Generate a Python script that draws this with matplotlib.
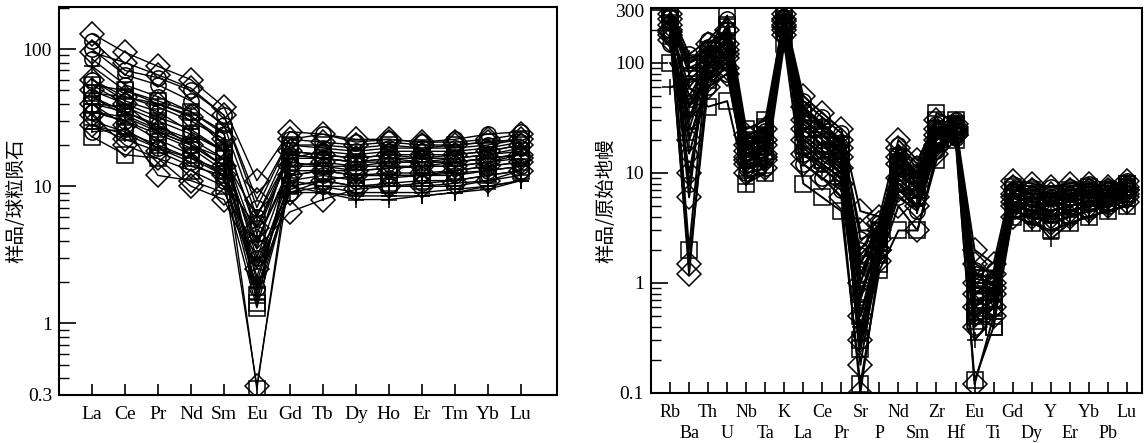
import numpy as np
import matplotlib
matplotlib.use('Agg')
import matplotlib.pyplot as plt
from matplotlib.ticker import LogLocator, FixedLocator, NullFormatter

plt.rcParams['font.family'] = ['Liberation Serif', 'Noto Sans CJK SC']

# chondrite-normalised REE
ree_labels = ['La', 'Ce', 'Pr', 'Nd', 'Sm', 'Eu', 'Gd', 'Tb', 'Dy', 'Ho', 'Er', 'Tm', 'Yb', 'Lu']

ree_diamond = [
    [130, 95, 75, 60, 38, 11, 25, 24, 22, 22, 21, 21, 22, 24],
    [95, 80, 65, 52, 33, 8, 22, 21, 20, 21, 20, 20, 21, 22],
    [60, 45, 40, 32, 22, 5, 18, 17, 16, 17, 17, 17, 18, 20],
    [40, 28, 12, 11, 9, 3.5, 6.5, 8, 9.5, 10, 10, 10.5, 11, 13],
    [33, 20, 16, 10, 8, 2.5, 9, 11, 12, 12.5, 12.5, 13, 14, 15],
    [50, 40, 25, 20, 14, 4, 14, 15, 14, 15, 15, 15, 16, 17],
    [28, 22, 18, 14, 12, 0.35, 12, 13, 13, 13.5, 14, 14, 15, 16],
]
ree_circle = [
    [115, 70, 62, 50, 33, 7, 22, 24, 21, 22, 21, 22, 24, 25],
    [100, 65, 55, 42, 28, 6, 20, 19, 18, 19, 19, 19, 20, 22],
    [85, 55, 45, 35, 24, 4.5, 17, 16, 15, 16, 16, 16, 17, 19],
    [60, 42, 35, 25, 18, 3, 14, 14, 13, 13.5, 14, 14, 15, 17],
    [45, 35, 28, 20, 14, 2.2, 11, 12, 11, 11.5, 12, 12, 13, 14],
    [35, 30, 22, 17, 12, 1.8, 9, 10, 10, 10, 10.5, 11, 12, 13],
    [25, 26, 19, 15, 11, 5, 16, 18, 17, 18, 18, 18, 19, 21],
]
ree_square = [
    [55, 50, 42, 35, 25, 1.4, 18, 17, 16, 17, 16, 17, 18, 20],
    [48, 45, 38, 30, 22, 1.6, 16, 16, 15, 16, 15, 16, 17, 18],
    [40, 38, 30, 24, 18, 0.33, 15, 14, 14, 14, 14, 15, 16, 17],
    [30, 25, 20, 16, 13, 2.5, 12, 13, 12, 12, 12, 13, 14, 15],
    [23, 17, 16, 13, 10, 1.3, 10, 11, 10, 10.5, 11, 11, 12, 13],
    [35, 32, 25, 20, 16, 3.5, 20, 20, 19, 20, 19, 20, 21, 22],
]
ree_plus = [
    [75, 50, 40, 33, 20, 2, 11, 10, 9, 9, 9, 9.5, 10, 11],
    [45, 33, 26, 21, 14, 1.8, 9, 9, 8.5, 8.5, 8.5, 9, 9.5, 11],
    [35, 30, 24, 19, 13, 2.8, 10, 11, 10, 10, 10, 10, 11, 12],
    [55, 40, 32, 26, 18, 4, 13, 13, 12, 12, 12, 12.5, 13, 14],
    [40, 35, 27, 22, 16, 6, 17, 16, 15, 15, 15, 15, 16, 17],
    [28, 24, 19, 16, 12, 1.5, 10, 9, 8, 8, 8.5, 9, 10, 11],
]

# primitive-mantle-normalised trace elements
te_labels = ['Rb', 'Ba', 'Th', 'U', 'Nb', 'Ta', 'K', 'La', 'Ce', 'Pr', 'Sr', 'P', 'Nd',
             'Sm', 'Zr', 'Hf', 'Eu', 'Ti', 'Gd', 'Dy', 'Y', 'Er', 'Yb', 'Pb', 'Lu']

te_diamond = [
    [280, 6, 150, 200, 22, 25, 280, 50, 35, 25, 4.5, 4, 20, 13, 30, 28, 2, 1.5, 8.5, 8, 7.5, 8, 8, 7.5, 8.5],
    [250, 40, 120, 150, 18, 20, 250, 40, 28, 20, 3, 3, 17, 11, 25, 26, 1.5, 1.2, 7.5, 7, 6.5, 7, 7, 7, 7.5],
    [200, 1.2, 90, 120, 14, 15, 220, 25, 18, 14, 0.18, 2, 12, 8, 20, 24, 0.8, 0.8, 6, 5.5, 5, 5.5, 6, 6, 7],
    [180, 1.5, 60, 80, 10, 11, 200, 12, 9, 6, 0.1, 1.6, 5, 3, 15, 22, 0.12, 0.5, 4, 4, 3.5, 4, 4.5, 5, 5.5],
    [160, 20, 70, 90, 12, 13, 180, 15, 11, 8, 0.5, 2.5, 7, 5, 18, 22, 0.6, 0.9, 5, 4.5, 4, 4.5, 5, 5.5, 6],
    [220, 60, 100, 130, 16, 18, 240, 30, 22, 17, 1, 3.5, 14, 9, 22, 25, 1, 1, 6.5, 6, 5.5, 6, 6.5, 6.5, 7],
    [190, 10, 80, 110, 13, 14, 210, 20, 15, 11, 0.3, 2, 9, 6, 17, 23, 0.4, 0.6, 5.5, 5, 4.5, 5, 5.5, 6, 6.5],
]
te_circle = [
    [300, 120, 160, 250, 20, 24, 290, 45, 32, 23, 2.5, 3, 18, 12, 28, 30, 1.2, 1.1, 8, 7.5, 7.5, 7.5, 8, 7.5, 8.5],
    [260, 100, 140, 200, 17, 20, 260, 38, 27, 19, 1.8, 2.8, 15, 10, 25, 28, 1, 1, 7, 6.5, 6.5, 7, 7.5, 7, 8],
    [230, 80, 120, 160, 15, 17, 240, 30, 22, 16, 1.2, 2.5, 13, 9, 22, 26, 0.8, 0.9, 6.5, 6, 6, 6, 6.5, 6.5, 7.5],
    [200, 50, 100, 130, 13, 15, 220, 22, 16, 12, 0.8, 2.2, 10, 7, 20, 24, 0.6, 0.8, 5.5, 5, 5, 5.5, 6, 6, 7],
    [180, 30, 80, 100, 11, 13, 200, 17, 12, 9, 0.5, 2, 8, 6, 18, 22, 0.5, 0.7, 5, 4.5, 4.5, 5, 5.5, 5.5, 6.5],
    [150, 15, 60, 80, 10, 11, 180, 12, 9, 7, 0.35, 1.8, 6, 4.5, 16, 21, 0.4, 0.6, 4.5, 4, 3.5, 4, 4.5, 5, 6],
    [270, 8, 110, 140, 19, 22, 260, 15, 12, 9, 2, 3.5, 11, 9, 24, 28, 1.3, 1.3, 7, 6.5, 6, 6.5, 7, 7, 7.5],
]
te_square = [
    [320, 2, 130, 270, 25, 30, 270, 35, 25, 18, 0.25, 1.5, 12, 8, 35, 30, 0.5, 0.4, 7, 6.5, 6, 6.5, 7, 7, 8],
    [300, 30, 110, 220, 22, 26, 250, 30, 22, 16, 0.3, 1.8, 11, 7, 30, 28, 0.45, 0.5, 6.5, 6, 5.5, 6, 6.5, 6.5, 7.5],
    [100, 60, 40, 45, 8, 10, 150, 8, 6, 4.5, 0.12, 1.3, 3, 3, 13, 20, 0.13, 0.4, 4, 3.5, 3, 3.5, 4, 4.5, 5],
    [280, 90, 90, 180, 18, 22, 230, 25, 18, 13, 0.8, 2.5, 10, 7, 25, 26, 0.7, 0.7, 6, 5.5, 5, 5.5, 6, 6, 7],
    [250, 40, 70, 140, 14, 16, 210, 18, 13, 10, 0.5, 2, 8, 6, 20, 24, 0.55, 0.6, 5.5, 5, 4.5, 5, 5.5, 5.5, 6.5],
    [290, 100, 120, 210, 20, 25, 240, 28, 20, 15, 1.5, 3, 14, 10, 28, 27, 1.1, 1, 7.5, 7, 6.5, 7, 7.5, 7, 8],
]
te_plus = [
    [60, 70, 100, 120, 15, 18, 230, 40, 28, 18, 1.2, 3, 14, 9, 22, 25, 0.9, 0.9, 5.5, 4.5, 3.5, 4, 4.5, 5, 5.5],
    [150, 40, 80, 100, 9, 10, 200, 25, 18, 12, 0.7, 2.5, 10, 7, 18, 22, 0.7, 0.8, 4.5, 4, 2.5, 3.5, 4, 4.5, 5],
    [200, 25, 90, 110, 8, 12, 210, 20, 15, 10, 0.4, 2, 8, 5, 17, 22, 0.5, 0.6, 5, 4.5, 4, 4.5, 5, 5, 6],
    [240, 90, 110, 150, 14, 17, 240, 30, 22, 15, 1, 3, 12, 8, 24, 26, 0.9, 0.9, 6, 5.5, 5, 5.5, 6, 6, 7],
    [260, 110, 130, 180, 18, 21, 260, 35, 25, 18, 1.5, 3.5, 15, 10, 26, 27, 1.2, 1.1, 7, 6.5, 6, 6.5, 7, 6.5, 7.5],
    [170, 20, 70, 90, 11, 12, 190, 15, 11, 8, 0.3, 1.8, 7, 5, 16, 21, 0.3, 0.5, 4, 3.5, 3, 3.5, 4, 4.5, 5],
]

markers = [('D', 12), ('o', 11), ('s', 11), ('+', 12)]
cjk = ['Noto Sans CJK SC', 'DejaVu Sans']


def draw(ax, groups, labels, lw):
    x = np.arange(1, len(labels) + 1)
    for rows, (m, ms) in zip(groups, markers):
        for row in rows:
            ax.plot(x, row, color='black', lw=lw, marker=m, ms=ms,
                    mfc='none', mec='black', mew=1.1)
    ax.set_yscale('log')
    ax.tick_params(axis='x', which='both', direction='in', length=8, width=1.2, top=False, pad=8)
    ax.tick_params(axis='y', which='major', direction='in', length=12, width=1.2, right=False, pad=5)
    ax.tick_params(axis='y', which='minor', direction='in', length=7, width=1.0, right=False)
    ax.yaxis.set_minor_locator(LogLocator(base=10, subs=np.arange(2, 10)))
    ax.yaxis.set_minor_formatter(NullFormatter())
    for s in ax.spines.values():
        s.set_linewidth(1.5)
    return x


fig = plt.figure(figsize=(11.45, 4.43), dpi=100)

ax1 = fig.add_axes([0.0515, 0.1084, 0.435, 0.8756])
x1 = draw(ax1, [ree_diamond, ree_circle, ree_square, ree_plus], ree_labels, 1.0)
ax1.set_xticks(x1, ree_labels, fontsize=14)
ax1.set_xlim(0, 15.1)
ax1.set_ylim(0.3, 203)
ax1.yaxis.set_major_locator(FixedLocator([0.3, 1, 10, 100]))
ax1.set_yticklabels(['0.3', '1', '10', '100'], fontsize=14)
ax1.set_ylabel('样品/球粒陨石', family=cjk, fontsize=14)
ax1.yaxis.set_label_coords(-0.065, 0.5)

ax2 = fig.add_axes([0.5686, 0.1129, 0.4288, 0.8691])
x2 = draw(ax2, [te_diamond, te_circle, te_square, te_plus], te_labels, 1.4)
# two staggered rows of element names: upper row on major ticks, lower row on minor ticks
ax2.set_xticks(x2[0::2], te_labels[0::2], fontsize=13)
ax2.set_xticks(x2[1::2], te_labels[1::2], minor=True, fontsize=13)
ax2.tick_params(axis='x', which='minor', pad=23)
ax2.set_xlim(0, 25.8)
ax2.set_ylim(0.1, 316)
ax2.yaxis.set_major_locator(FixedLocator([0.1, 1, 10, 100, 300]))
ax2.set_yticklabels(['0.1', '1', '10', '100', '300'], fontsize=14)
ax2.set_ylabel('样品/原始地幔', family=cjk, fontsize=14)
ax2.yaxis.set_label_coords(-0.071, 0.5)

fig.savefig('out.png', dpi=100)
